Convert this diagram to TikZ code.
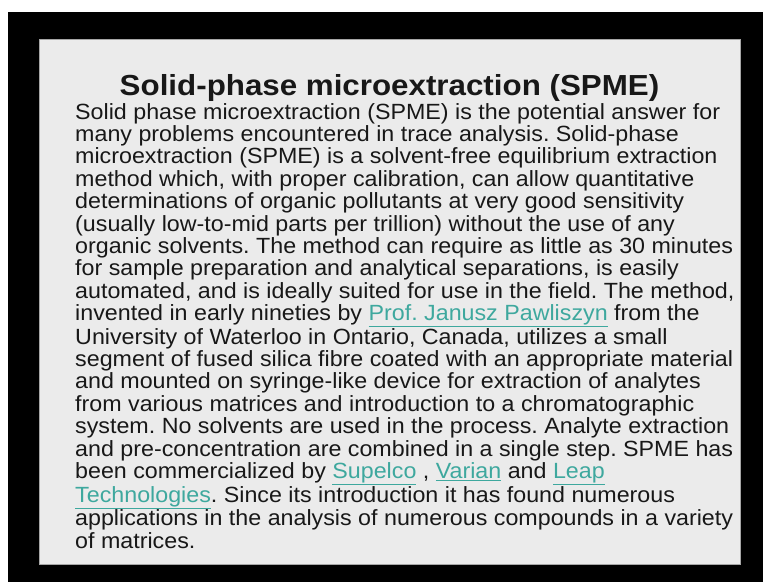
\documentclass[tikz,border=0pt]{standalone}
\usepackage{fontspec}
\setmainfont{Liberation Sans}
\usetikzlibrary{positioning}
\definecolor{slidebg}{RGB}{235,235,235}
\definecolor{bodyink}{RGB}{24,24,24}
\definecolor{linkteal}{RGB}{62,168,158}
\newcommand{\weblink}[1]{{\color{linkteal}\underline{#1}}}
\frenchspacing

\begin{document}
\begin{tikzpicture}[x=1pt, y=-1pt, every node/.style={inner sep=0pt, text=bodyink}]
    % page, black screen and the slide itself
    \useasboundingbox (0,0) rectangle (763,582);
    \fill[white] (0,0) rectangle (763,582);
    \fill[black] (8,12) rectangle (763,582);
    \draw[fill=slidebg, draw=gray!70] (39,39) rectangle (740,564);

    % Title
    \node[anchor=base, xscale=1.08, font=\bfseries\fontsize{29}{34}\selectfont] (title) at (389.5,95) {Solid-phase microextraction (SPME)};

    % Body text (base anchor sits on the last line)
    \node[anchor=base west, align=left, xscale=1.057, font=\fontsize{22}{22.4}\selectfont] (body) at (75,548) {Solid phase microextraction (SPME) is the potential answer for\\
many problems encountered in trace analysis. Solid-phase\\
microextraction (SPME) is a solvent-free equilibrium extraction\\
method which, with proper calibration, can allow quantitative\\
determinations of organic pollutants at very good sensitivity\\
(usually low-to-mid parts per trillion) without the use of any\\
organic solvents. The method can require as little as 30 minutes\\
for sample preparation and analytical separations, is easily\\
automated, and is ideally suited for use in the field. The method,\\
invented in early nineties by \weblink{Prof. Janusz Pawliszyn} from the\\
University of Waterloo in Ontario, Canada, utilizes a small\\
segment of fused silica fibre coated with an appropriate material\\
and mounted on syringe-like device for extraction of analytes\\
from various matrices and introduction to a chromatographic\\
system. No solvents are used in the process. Analyte extraction\\
and pre-concentration are combined in a single step. SPME has\\
been commercialized by \weblink{Supelco} , \weblink{Varian} and \weblink{Leap}\\
\weblink{Technologies}. Since its introduction it has found numerous\\
applications in the analysis of numerous compounds in a variety\\
of matrices.};
\end{tikzpicture}
\end{document}
